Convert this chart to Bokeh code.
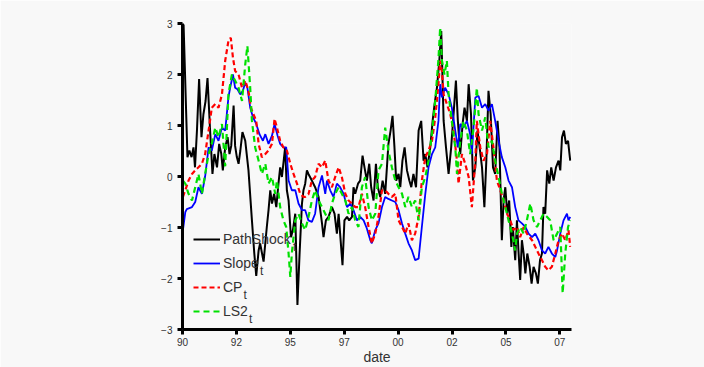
from bokeh.plotting import figure
from bokeh.models import FixedTicker, Legend, LegendItem, Label, Range1d
from bokeh.embed import file_html
from bokeh.resources import INLINE

# ---- data (decimal years, standardized values) ----
path_dates = [1990.05, 1990.23, 1990.32, 1990.42, 1990.51, 1990.58, 1990.67, 1990.77, 1990.88, 1990.97,
              1991.07, 1991.16, 1991.28, 1991.39, 1991.48, 1991.60, 1991.70, 1991.80, 1991.87, 1991.98,
              1992.09, 1992.18, 1992.26, 1992.37, 1992.44, 1992.52, 1992.60, 1992.68, 1992.78, 1992.91,
              1993.06, 1993.22, 1993.33, 1993.42, 1993.53, 1993.60, 1993.76, 1993.91, 1993.99, 1994.07,
              1994.15, 1994.25, 1994.35, 1994.45, 1994.53, 1994.61, 1994.76, 1994.84, 1994.92, 1995.03,
              1995.12, 1995.23, 1995.33, 1995.43, 1995.54, 1995.61, 1995.69, 1995.77, 1995.84, 1996.00,
              1996.15, 1996.31, 1996.47, 1996.54, 1996.65, 1996.77, 1996.93, 1997.05, 1997.16, 1997.24,
              1997.31, 1997.42, 1997.51, 1997.63, 1997.73, 1997.86, 1997.93, 1998.01, 1998.14, 1998.24,
              1998.35, 1998.44, 1998.55, 1998.66, 1998.75, 1998.86, 1998.97, 1999.06, 1999.17, 1999.28,
              1999.40, 1999.48, 1999.55, 1999.65, 1999.74, 1999.83, 1999.91, 2000.02, 2000.10, 2000.20,
              2000.30, 2000.41, 2000.52, 2000.61, 2000.71, 2000.83, 2000.95, 2001.07, 2001.18, 2001.26,
              2001.36, 2001.49, 2001.60, 2001.69, 2001.80, 2001.91, 2002.00, 2002.11, 2002.22, 2002.34,
              2002.46, 2002.57, 2002.68, 2002.77, 2002.88, 2002.99, 2003.08, 2003.19, 2003.27, 2003.38,
              2003.47, 2003.58, 2003.68, 2003.78, 2003.89, 2004.00, 2004.09, 2004.19, 2004.29, 2004.40,
              2004.50, 2004.61, 2004.70, 2004.81, 2004.89, 2004.97, 2005.06, 2005.15, 2005.25, 2005.32,
              2005.43, 2005.51, 2005.58, 2005.66, 2005.74, 2005.82, 2005.90, 2005.99, 2006.10, 2006.19,
              2006.28, 2006.39, 2006.48, 2006.58, 2006.67, 2006.74, 2006.82, 2006.91, 2007.01, 2007.10,
              2007.21, 2007.32, 2007.44, 2007.52, 2007.60, 2007.69, 2007.78, 2007.88, 2007.98]
path_vals = [2.98, 0.38, 0.51, 0.38, 0.57, 0.18, 0.90, 1.91, 0.77, 1.22,
             1.48, 1.93, 0.90, 0.05, 0.44, 0.18, 0.64, 0.44, 0.12, 0.57,
             0.77, 0.44, 0.60, 1.39, 0.60, 0.38, 0.25, 0.50, 0.87, 0.70,
             0.12, -0.86, -1.51, -1.95, -1.45, -1.31, -1.67, -0.99, -0.66, -0.27,
             -0.53, -0.34, -0.60, -0.14, 0.18, -0.01, 0.57, -0.27, -0.47, -1.19,
             -1.05, -0.73, -2.52, -1.51, -0.53, -0.27, -0.14, 0.12, 0.05, -0.08,
             -0.21, -0.40, -0.92, -1.19, -0.86, -0.79, -0.60, -0.73, -1.12, -0.73,
             -1.12, -1.74, -0.86, -0.79, -0.86, -0.79, -0.21, -0.34, -0.14, -0.08,
             0.41, 0.18, -0.08, 0.25, -0.21, -0.47, 0.25, -0.21, -0.40, -0.08,
             -0.34, 0.18, 0.64, 0.90, 1.19, 0.57, -0.08, 0.05, -0.21, 0.31,
             0.57, 0.12, -0.08, -0.21, 0.05, -0.21, 0.90, 1.09, 0.31, 0.44,
             0.18, 0.57, 1.09, 1.42, 1.74, 2.27, 2.85, 1.09, 0.57, 0.05,
             0.57, 1.22, 1.88, 1.09, 0.44, 1.03, 1.35, 1.09, 1.81, 1.22,
             -0.08, 0.18, 0.90, 0.57, 0.18, -0.60, 0.31, 1.68, 1.22, 0.18,
             0.05, 1.09, 0.57, -1.25, -0.47, -0.21, -0.73, -0.47, -1.38, -0.99,
             -1.64, -0.86, -1.45, -2.03, -1.25, -1.51, -1.90, -1.51, -1.77, -2.10,
             -1.77, -1.90, -2.10, -1.64, -1.51, -0.60, -0.73, 0.12, -0.14, 0.18,
             -0.08, 0.18, 0.31, 0.12, 0.77, 0.90, 0.64, 0.70, 0.31]

slope_dates = [1990.02, 1990.13, 1990.20, 1990.44, 1990.59, 1990.74, 1990.90, 1991.05, 1991.21, 1991.36,
               1991.52, 1991.67, 1991.83, 1991.98, 1992.13, 1992.21, 1992.34, 1992.44, 1992.55, 1992.68,
               1992.80, 1992.91, 1993.01, 1993.14, 1993.27, 1993.42, 1993.57, 1993.73, 1993.84, 1993.99,
               1994.15, 1994.27, 1994.41, 1994.53, 1994.68, 1994.81, 1994.92, 1995.07, 1995.23, 1995.38,
               1995.54, 1995.69, 1995.84, 1996.00, 1996.15, 1996.31, 1996.47, 1996.62, 1996.70, 1996.85,
               1997.00, 1997.16, 1997.31, 1997.47, 1997.63, 1997.78, 1997.93, 1998.09, 1998.24, 1998.40,
               1998.55, 1998.71, 1998.78, 1998.94, 1999.09, 1999.25, 1999.40, 1999.55, 1999.71, 1999.87,
               2000.02, 2000.18, 2000.33, 2000.48, 2000.64, 2000.79, 2000.95, 2001.10, 2001.26, 2001.41,
               2001.57, 2001.72, 2001.87, 2001.95, 2002.03, 2002.18, 2002.34, 2002.49, 2002.65, 2002.77,
               2002.88, 2003.03, 2003.19, 2003.34, 2003.42, 2003.58, 2003.73, 2003.89, 2004.04, 2004.19,
               2004.35, 2004.50, 2004.66, 2004.81, 2004.97, 2005.12, 2005.28, 2005.43, 2005.58, 2005.74,
               2005.90, 2006.05, 2006.21, 2006.36, 2006.51, 2006.67, 2006.82, 2006.97, 2007.13, 2007.29,
               2007.37, 2007.52, 2007.67, 2007.83, 2007.90, 2007.98]
slope_vals = [-1.05, -0.70, -0.64, -0.60, -0.50, -0.21, -0.34, 0.00, 0.57, 0.51,
              0.83, 0.70, 0.96, 0.90, 1.55, 1.74, 2.00, 1.74, 1.71, 1.61,
              1.68, 1.84, 1.74, 1.35, 1.16, 1.03, 0.83, 0.70, 0.83, 0.64,
              0.80, 1.03, 0.80, 0.64, 0.57, 0.57, -0.08, -0.27, -0.27, -0.53,
              -0.66, -0.66, -0.86, -0.89, -0.73, -0.21, 0.02, -0.34, -0.08, -0.27,
              -0.40, -0.14, -0.21, -0.34, -0.60, -0.53, -0.66, -0.86, -0.79, -0.86,
              -1.02, -1.25, -1.31, -1.05, -0.92, -0.60, -0.40, -0.44, -0.47, -0.50,
              -0.66, -0.92, -1.12, -1.31, -1.45, -1.64, -1.61, -0.99, -0.34, 0.18,
              0.44, 0.57, 1.09, 1.81, 1.55, 1.74, 1.61, 1.35, 0.90, 0.57,
              1.03, 0.96, 1.09, 0.83, 0.44, 1.55, 1.58, 1.35, 1.42, 1.29,
              1.42, 1.09, 0.70, 0.38, 0.18, -0.08, -0.21, -0.60, -0.86, -0.92,
              -0.99, -1.12, -1.19, -1.12, -1.25, -1.45, -1.51, -1.38, -1.51, -1.58,
              -1.45, -1.12, -0.86, -0.73, -0.86, -0.79]

cp_dates = [1990.02, 1990.13, 1990.28, 1990.44, 1990.59, 1990.74, 1990.90, 1991.05, 1991.21, 1991.36,
            1991.52, 1991.67, 1991.83, 1991.98, 1992.13, 1992.24, 1992.34, 1992.44, 1992.60, 1992.76,
            1992.91, 1993.06, 1993.17, 1993.29, 1993.42, 1993.53, 1993.68, 1993.84, 1993.99, 1994.15,
            1994.27, 1994.38, 1994.53, 1994.68, 1994.84, 1995.00, 1995.15, 1995.31, 1995.46, 1995.61,
            1995.69, 1995.84, 1996.00, 1996.15, 1996.31, 1996.47, 1996.62, 1996.77, 1996.93, 1997.08,
            1997.24, 1997.39, 1997.55, 1997.70, 1997.86, 1998.01, 1998.16, 1998.32, 1998.47, 1998.63,
            1998.78, 1998.94, 1999.09, 1999.25, 1999.40, 1999.55, 1999.71, 1999.87, 2000.02, 2000.18,
            2000.33, 2000.48, 2000.64, 2000.79, 2000.95, 2001.10, 2001.26, 2001.41, 2001.57, 2001.72,
            2001.87, 2001.95, 2002.03, 2002.11, 2002.26, 2002.42, 2002.57, 2002.73, 2002.80, 2002.96,
            2003.11, 2003.27, 2003.42, 2003.58, 2003.65, 2003.81, 2003.96, 2004.12, 2004.27, 2004.42,
            2004.58, 2004.74, 2004.89, 2005.05, 2005.20, 2005.35, 2005.51, 2005.66, 2005.82, 2005.97,
            2006.21, 2006.36, 2006.51, 2006.67, 2006.82, 2006.97, 2007.13, 2007.29, 2007.44, 2007.60,
            2007.75, 2007.90, 2007.98]
cp_vals = [-0.40, -0.27, -0.08, 0.05, 0.12, 0.18, 0.25, 0.44, 0.90, 1.35,
           1.42, 1.35, 1.61, 2.27, 2.66, 2.72, 2.33, 2.07, 2.00, 1.74,
           1.88, 1.68, 1.35, 1.22, 1.09, 0.64, 0.38, 0.44, 0.51, 0.64,
           1.13, 0.96, 0.70, 0.57, 0.51, 0.25, 0.05, -0.14, -0.34, -0.40,
           -0.40, -0.35, -0.08, -0.01, 0.25, 0.18, 0.31, -0.08, -0.21, -0.01,
           0.18, -0.01, -0.34, -0.47, -0.53, -0.60, -0.60, -0.34, -0.60, -0.99,
           -1.31, -1.12, -0.79, -0.27, -0.27, -0.34, -0.40, -0.34, -0.86, -0.99,
           -1.12, -0.92, -1.25, -1.12, -0.79, -0.08, 0.38, 0.51, 0.70, 1.15,
           1.81, 2.27, 2.07, 1.61, 1.42, 1.22, 0.90, 0.31, -0.14, 0.44,
           0.25, -0.01, -0.60, 0.31, 1.09, 0.57, 0.31, 0.44, 1.09, 0.57,
           -0.08, -0.27, -0.47, -0.73, -0.86, -1.05, -0.99, -1.19, -0.99, -1.12,
           -1.25, -1.38, -1.51, -1.64, -1.77, -1.84, -1.77, -1.51, -1.25, -1.12,
           -1.25, -1.05, -1.38]

ls2_dates = [1990.02, 1990.13, 1990.28, 1990.44, 1990.59, 1990.74, 1990.90, 1991.05, 1991.21, 1991.36,
             1991.52, 1991.67, 1991.83, 1991.98, 1992.13, 1992.29, 1992.44, 1992.60, 1992.76, 1992.91,
             1993.01, 1993.14, 1993.22, 1993.37, 1993.53, 1993.68, 1993.84, 1993.99, 1994.15, 1994.30,
             1994.38, 1994.53, 1994.68, 1994.81, 1994.92, 1995.00, 1995.07, 1995.23, 1995.38, 1995.54,
             1995.69, 1995.84, 1996.00, 1996.15, 1996.31, 1996.47, 1996.62, 1996.77, 1996.93, 1997.08,
             1997.24, 1997.39, 1997.55, 1997.70, 1997.86, 1998.01, 1998.16, 1998.32, 1998.47, 1998.63,
             1998.78, 1998.94, 1999.09, 1999.25, 1999.40, 1999.55, 1999.71, 1999.87, 2000.02, 2000.18,
             2000.33, 2000.48, 2000.64, 2000.79, 2000.95, 2001.10, 2001.26, 2001.41, 2001.57, 2001.72,
             2001.87, 2001.95, 2002.03, 2002.15, 2002.26, 2002.34, 2002.49, 2002.65, 2002.73, 2002.88,
             2003.03, 2003.19, 2003.34, 2003.50, 2003.65, 2003.73, 2003.89, 2004.04, 2004.19, 2004.35,
             2004.50, 2004.66, 2004.81, 2004.97, 2005.12, 2005.28, 2005.43, 2005.51, 2005.66, 2005.82,
             2005.97, 2006.13, 2006.28, 2006.44, 2006.59, 2006.74, 2006.90, 2007.05, 2007.21, 2007.37,
             2007.52, 2007.63, 2007.75, 2007.88, 2007.98]
ls2_vals = [-0.08, -0.14, -0.34, -0.47, -0.21, 0.05, -0.34, 0.05, 0.44, 0.64,
            0.96, 0.77, 1.03, 0.20, 1.61, 2.00, 1.88, 1.74, 1.48, 2.20,
            2.56, 1.74, 1.09, 0.57, 0.31, 0.05, 0.25, -0.14, -0.01, -0.34,
            -0.08, -0.60, -0.86, -0.99, -1.51, -1.97, -1.51, -0.86, -0.73, -0.92,
            -1.05, -0.80, -0.47, -0.27, -0.47, -0.60, -0.73, -0.86, -0.53, -0.34,
            -0.21, -0.34, -0.47, -0.73, -0.60, -0.86, -0.99, -0.21, -0.01, -0.60,
            -0.86, -0.73, 0.12, 0.25, 0.96, 0.51, 0.18, -0.08, -0.21, -0.34,
            -0.60, -0.40, -0.60, -0.47, -0.86, -0.21, -0.01, 0.31, 0.83, 1.48,
            2.30, 2.92, 2.27, 2.00, 2.27, 1.61, 1.09, 0.57, 0.05, 0.70,
            1.09, 0.90, 0.44, 0.96, 1.74, 1.22, 0.90, 1.16, 0.57, 0.70,
            0.31, -0.01, -0.34, -0.60, -0.86, -1.12, -1.45, -1.12, -0.99, -1.12,
            -0.86, -0.53, -0.86, -0.99, -0.86, -0.73, -0.79, -0.86, -1.25, -1.12,
            -0.99, -2.29, -1.51, -0.99, -0.86]

series_names = ["PathShock", "Slope", "CP", "LS2"]
x_ticks = [1990, 1992.5, 1995, 1997.5, 2000, 2002.5, 2005, 2007.5]
x_tick_labels = ["90", "92", "95", "97", "00", "02", "05", "07"]
y_ticks = [-3, -2, -1, 0, 1, 2, 3]
y_tick_labels = ["\u22123", "\u22122", "\u22121", "0", "1", "2", "3"]

BG = "#f8f8f8"
FONT = "Liberation Sans"
TXT = "#333333"

p = figure(width=704, height=367, output_backend="svg", toolbar_location=None,
           x_range=Range1d(1990, 2008.04), y_range=Range1d(-3, 3),
           min_border_left=182, min_border_right=133, min_border_top=23, min_border_bottom=37,
           background_fill_color=BG, border_fill_color=BG, outline_line_color=None)
p.grid.visible = False

for ax in (p.xaxis[0], p.yaxis[0]):
    ax.axis_line_width = 3
    ax.axis_line_color = "black"
    ax.major_tick_line_width = 3
    ax.major_tick_line_color = "black"
    ax.major_tick_out = 5
    ax.major_tick_in = 0
    ax.minor_tick_line_color = None
    ax.major_label_text_font = FONT
    ax.major_label_text_font_size = "10px"
    ax.major_label_text_color = TXT

p.xaxis[0].ticker = FixedTicker(ticks=x_ticks)
p.xaxis[0].major_label_overrides = {t: l for t, l in zip(x_ticks, x_tick_labels)}
p.xaxis[0].major_label_standoff = 3
p.xaxis[0].axis_label = "date"
p.xaxis[0].axis_label_standoff = 0
p.xaxis[0].axis_label_text_font = FONT
p.xaxis[0].axis_label_text_font_size = "14px"
p.xaxis[0].axis_label_text_font_style = "normal"
p.xaxis[0].axis_label_text_color = TXT
p.yaxis[0].ticker = FixedTicker(ticks=y_ticks)
p.yaxis[0].major_label_overrides = {t: l for t, l in zip(y_ticks, y_tick_labels)}
p.yaxis[0].major_label_standoff = 5

r1 = p.line(path_dates, path_vals, line_color="black", line_width=2)
r2 = p.line(slope_dates, slope_vals, line_color="#0000ff", line_width=1.8)
r3 = p.line(cp_dates, cp_vals, line_color="#ff0000", line_width=2.2, line_dash="5 3")
r4 = p.line(ls2_dates, ls2_vals, line_color="#00e000", line_width=2.2, line_dash="6 4")

legend = Legend(items=[LegendItem(label=n, renderers=[r]) for n, r in zip(series_names, [r1, r2, r3, r4])],
                location=(11, 8), padding=0, margin=0, spacing=4,
                glyph_width=27, glyph_height=20, label_height=20, label_standoff=3,
                label_text_font=FONT, label_text_font_size="14px", label_text_color=TXT,
                label_text_baseline="alphabetic",
                background_fill_alpha=0, border_line_alpha=0)
p.add_layout(legend)

# subscripts "t" after each legend label
for sx, sy in [(110.5, 83), (77.5, 59), (61, 35), (66.5, 11)]:
    p.add_layout(Label(x=sx, y=sy, x_units="screen", y_units="screen", text="t",
                       text_font=FONT, text_font_size="12px", text_color=TXT,
                       text_baseline="alphabetic"))

html = file_html(p, INLINE)
open("out.html", "w").write(html)
